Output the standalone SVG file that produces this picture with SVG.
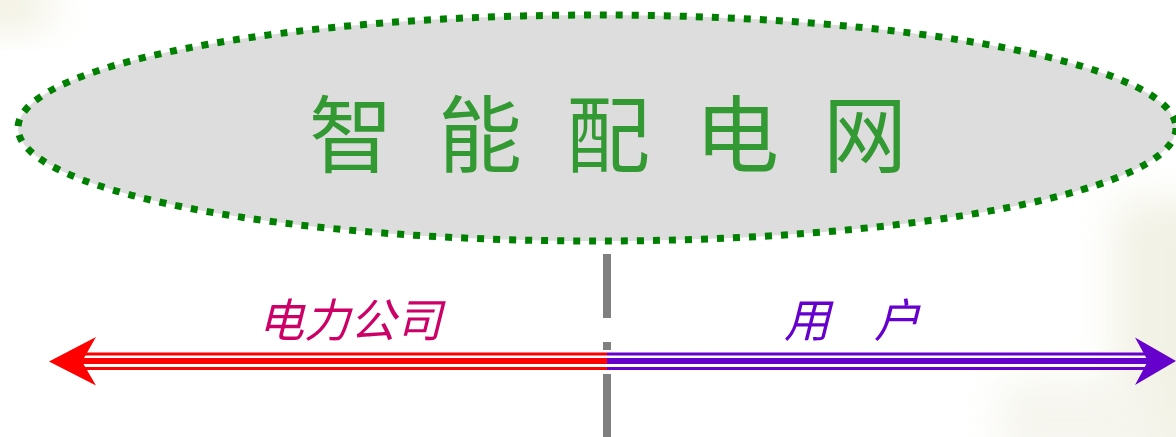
<svg xmlns="http://www.w3.org/2000/svg" width="1176" height="437" viewBox="0 0 1176 437">
<defs>
<filter id="blur" x="-50%" y="-50%" width="200%" height="200%"><feGaussianBlur stdDeviation="20"/></filter>
<style>
.title{font-family:"Noto Sans CJK SC","Noto Sans",sans-serif;font-size:84px;fill:#339933;text-anchor:middle}
.lab{font-family:"Noto Sans CJK SC","Noto Sans",sans-serif;font-size:46px;font-style:italic}
.sep{stroke:#808080;stroke-width:8}
</style>
</defs>
<rect width="1176" height="437" fill="#ffffff"/>
<g id="background" opacity="0.55">
<rect x="1115" y="200" width="120" height="260" fill="#e8e6d0" filter="url(#blur)"/>
<rect x="1000" y="380" width="160" height="80" fill="#eeede0" filter="url(#blur)"/>
<ellipse cx="10" cy="6" rx="45" ry="22" fill="#e3dfc0" filter="url(#blur)"/>
</g>
<g id="node-main">
<ellipse cx="597" cy="128" rx="579" ry="113" fill="#dddddd" stroke="#008000" stroke-width="7" stroke-dasharray="7 9"/>
<text class="title" x="351" y="166">智</text>
<text class="title" x="480" y="166">能</text>
<text class="title" x="608" y="166">配</text>
<text class="title" x="737" y="166">电</text>
<text class="title" x="865" y="166">网</text>
</g>
<g id="connectors">
<line class="sep" x1="607" y1="254" x2="607" y2="318"/>
<line class="sep" x1="607" y1="342" x2="607" y2="350"/>
<line class="sep" x1="607" y1="374" x2="607" y2="437"/>
<g id="arrow-left" fill="#ff0000">
<rect x="80" y="352.5" width="527" height="3"/>
<rect x="80" y="358" width="527" height="6"/>
<rect x="80" y="367" width="527" height="3"/>
<polygon points="49,361.5 96,337 82,361.5 96,385.5"/>
</g>
<g id="arrow-right" fill="#6600cc">
<rect x="607" y="352.5" width="542" height="3"/>
<rect x="607" y="358" width="542" height="6"/>
<rect x="607" y="367" width="542" height="3"/>
<polygon points="1176,361 1135,337.5 1148,361 1135,385"/>
</g>
</g>
<g id="node-company">
<text class="lab" x="258" y="337" fill="#cc0066">电力公司</text>
</g>
<g id="node-user">
<text class="lab" x="784" y="337" fill="#6600cc">用</text>
<text class="lab" x="874" y="337" fill="#6600cc">户</text>
</g>
</svg>
